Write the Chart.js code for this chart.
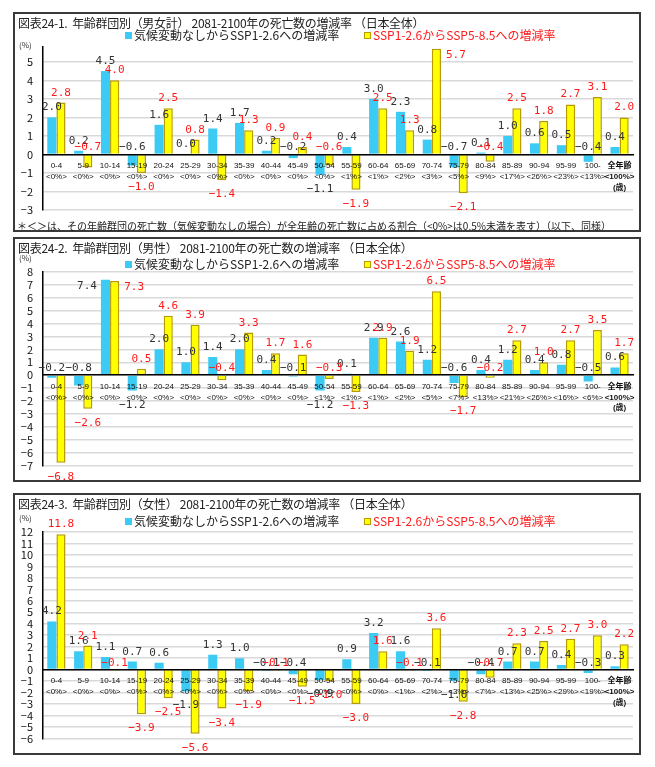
<!DOCTYPE html>
<html lang="ja">
<head>
<meta charset="utf-8">
<script src="https://cdn.jsdelivr.net/npm/chart.js@4.4.0/dist/chart.umd.min.js"></script>
<style>
  html, body { margin: 0; padding: 0; background: #fff; }
  body { width: 655px; height: 767px; position: relative; overflow: hidden;
         font-family: "Noto Sans CJK JP", sans-serif; color: #222; }
  .box { position: absolute; left: 13px; width: 628px; border: 2px solid #3a3a3a; box-sizing: border-box; }
  canvas { position: absolute; left: 13px; }
  .title { position: absolute; left: 18px; font-size: 12px; line-height: 14px; white-space: nowrap; letter-spacing: -0.3px; }
  .leg { position: absolute; font-size: 12px; line-height: 14px; white-space: nowrap; }
  .leg i { display: inline-block; width: 7px; height: 7px; margin-right: 2px; vertical-align: 1px; }
  .unit { position: absolute; left: 19px; font-size: 8px; line-height: 10px; color: #333; }
  .note { position: absolute; left: 17px; top: 219px; font-size: 10px; line-height: 13px; white-space: nowrap; }
</style>
</head>
<body>

<div class="box" style="top:12px;height:220px"></div>
<div class="box" style="top:237px;height:245px"></div>
<div class="box" style="top:493px;height:262px"></div>

<canvas id="c1" width="628" height="220" style="top:12px"></canvas>
<canvas id="c2" width="628" height="245" style="top:237px"></canvas>
<canvas id="c3" width="628" height="262" style="top:493px"></canvas>

<div class="title" style="top:16px">図表24-1.&nbsp; 年齢群団別（男女計） 2081-2100年の死亡数の増減率 （日本全体）</div>
<div class="leg" style="left:125px;top:28px"><i style="background:#3CCBF4"></i>気候変動なしからSSP1-2.6への増減率</div>
<div class="leg" style="left:364px;top:28px;color:#FF1A1A"><i style="background:#FFFF00;outline:1px solid #B89B00;outline-offset:-1px"></i>SSP1-2.6からSSP5-8.5への増減率</div>
<div class="unit" style="top:40px">(%)</div>
<div class="note">＊＜＞は、その年齢群団の死亡数（気候変動なしの場合）が全年齢の死亡数に占める割合（&lt;0%&gt;は0.5%未満を表す）（以下、同様）</div>

<div class="title" style="top:241px">図表24-2.&nbsp; 年齢群団別（男性） 2081-2100年の死亡数の増減率 （日本全体）</div>
<div class="leg" style="left:125px;top:257px"><i style="background:#3CCBF4"></i>気候変動なしからSSP1-2.6への増減率</div>
<div class="leg" style="left:364px;top:257px;color:#FF1A1A"><i style="background:#FFFF00;outline:1px solid #B89B00;outline-offset:-1px"></i>SSP1-2.6からSSP5-8.5への増減率</div>
<div class="unit" style="top:253px">(%)</div>

<div class="title" style="top:497px">図表24-3.&nbsp; 年齢群団別（女性） 2081-2100年の死亡数の増減率 （日本全体）</div>
<div class="leg" style="left:125px;top:514px"><i style="background:#3CCBF4"></i>気候変動なしからSSP1-2.6への増減率</div>
<div class="leg" style="left:364px;top:514px;color:#FF1A1A"><i style="background:#FFFF00;outline:1px solid #B89B00;outline-offset:-1px"></i>SSP1-2.6からSSP5-8.5への増減率</div>
<div class="unit" style="top:513px">(%)</div>

<script>
// 年齢群団
const ageGroups = ['0-4', '5-9', '10-14', '15-19', '20-24', '25-29', '30-34', '35-39', '40-44', '45-49',
  '50-54', '55-59', '60-64', '65-69', '70-74', '75-79', '80-84', '85-89', '90-94', '95-99', '100-', '全年齢'];

// 全年齢の死亡数に占める割合
const shareTotal = ['<0%>', '<0%>', '<0%>', '<0%>', '<0%>', '<0%>', '<0%>', '<0%>', '<0%>', '<0%>',
  '<0%>', '<1%>', '<1%>', '<2%>', '<3%>', '<5%>', '<9%>', '<17%>', '<26%>', '<23%>', '<13%>', '<100%>'];
const shareMale = ['<0%>', '<0%>', '<0%>', '<0%>', '<0%>', '<0%>', '<0%>', '<0%>', '<0%>', '<0%>',
  '<1%>', '<1%>', '<1%>', '<2%>', '<5%>', '<7%>', '<13%>', '<21%>', '<26%>', '<16%>', '<6%>', '<100%>'];
const shareFemale = ['<0%>', '<0%>', '<0%>', '<0%>', '<0%>', '<0%>', '<0%>', '<0%>', '<0%>', '<0%>',
  '<0%>', '<0%>', '<0%>', '<1%>', '<2%>', '<3%>', '<7%>', '<13%>', '<25%>', '<29%>', '<19%>', '<100%>'];

// 男女計
const totalNoCcTo126 = [2.0, 0.2, 4.5, -0.6, 1.6, 0.0, 1.4, 1.7, 0.2, -0.2, -1.1, 0.4, 3.0, 2.3, 0.8, -0.7, 0.1, 1.0, 0.6, 0.5, -0.4, 0.4];
const total126To585 = [2.8, -0.7, 4.0, -1.0, 2.5, 0.8, -1.4, 1.3, 0.9, 0.4, -0.6, -1.9, 2.5, 1.3, 5.7, -2.1, -0.4, 2.5, 1.8, 2.7, 3.1, 2.0];
// 男性
const maleNoCcTo126 = [-0.2, -0.8, 7.4, -1.2, 2.0, 1.0, 1.4, 2.0, 0.4, -0.1, -1.2, 0.1, 2.9, 2.6, 1.2, -0.6, 0.4, 1.2, 0.4, 0.8, -0.5, 0.6];
const male126To585 = [-6.8, -2.6, 7.3, 0.5, 4.6, 3.9, -0.4, 3.3, 1.7, 1.6, -0.3, -1.3, 2.9, 1.9, 6.5, -1.7, -0.2, 2.7, 1.0, 2.7, 3.5, 1.7];
// 女性
const femaleNoCcTo126 = [4.2, 1.6, 1.1, 0.7, 0.6, -1.9, 1.3, 1.0, -0.1, -0.4, -0.9, 0.9, 3.2, 1.6, -0.1, -1.0, -0.4, 0.7, 0.7, 0.4, -0.3, 0.3];
const female126To585 = [11.8, 2.1, -0.1, -3.9, -2.5, -5.6, -3.4, -1.9, -0.1, -1.5, -1.0, -3.0, 1.6, -0.1, 3.6, -2.8, -0.7, 2.3, 2.5, 2.7, 3.0, 2.2];

const BLUE = '#3CCBF4';
const YELLOW = '#FFFF00';
const GOLD = '#B89B00';
const RED = '#FF1A1A';

function fmt(v) {
  return v.toFixed(1).replace('-', '−');
}

// 棒の外側に値を書く（凡例や隣の値とぶつかる時は棒の横へ）
const valueLabels = {
  id: 'valueLabels',
  afterDatasetsDraw(chart) {
    const ctx = chart.ctx;
    const area = chart.chartArea;
    const zero = chart.scales.y.getPixelForValue(0);
    const legendBottom = area.top - 4;
    const legendLeft = 112;
    ctx.save();
    ctx.font = '11px "DejaVu Sans Mono", monospace';
    ctx.textBaseline = 'alphabetic';
    chart.data.datasets.forEach((ds, i) => {
      const other = chart.data.datasets[1 - i].data;
      chart.getDatasetMeta(i).data.forEach((bar, j) => {
        const v = ds.data[j];
        const text = fmt(v);
        const w = ctx.measureText(text).width;
        let x = bar.x, y, align = 'center';
        if (v >= 0) {
          y = bar.y - 7;
          const top = y - 9;
          const hitsLegend = top < legendBottom && bar.x + w / 2 > legendLeft;
          const hitsPair = top < area.top && Math.abs(other[j] - v) < 1;
          if (hitsLegend || hitsPair) {
            y = bar.y + 9;
            if (i === 0) { align = 'right'; x = bar.x - bar.width / 2 - 4; }
            else { align = 'left'; x = bar.x + bar.width / 2 + 5; }
          }
        } else if (v > -0.85) {
          y = zero - 4;
        } else {
          y = bar.y + 17;
        }
        ctx.textAlign = align;
        ctx.fillStyle = ds.labelColor;
        ctx.fillText(text, x, y);
      });
    });
    ctx.restore();
  }
};

function drawPanel(id, blue, yellow, shares, yMin, yMax, pad) {
  const last = ageGroups.length - 1;
  const labels = ageGroups.map((a, i) => i === last ? [a, shares[i], '(歳)'] : [a, shares[i]]);
  new Chart(document.getElementById(id), {
    type: 'bar',
    data: {
      labels: labels,
      datasets: [
        { label: '気候変動なしからSSP1-2.6への増減率', data: blue, backgroundColor: BLUE,
          borderWidth: 0, labelColor: '#333' },
        { label: 'SSP1-2.6からSSP5-8.5への増減率', data: yellow, backgroundColor: YELLOW,
          borderColor: GOLD, borderWidth: 1.5, labelColor: RED }
      ]
    },
    options: {
      responsive: false,
      animation: false,
      layout: { padding: pad },
      categoryPercentage: 0.68,
      barPercentage: 1.0,
      plugins: { legend: { display: false }, tooltip: { enabled: false } },
      scales: {
        x: {
          position: { y: 0 },
          grid: { display: false, drawTicks: false },
          border: { display: true, color: '#000', width: 1.5, z: 1 },
          ticks: {
            autoSkip: false, maxRotation: 0, minRotation: 0, padding: 6, z: 1, color: '#111',
            font: c => ({ family: '"Liberation Sans", "Noto Sans CJK JP", sans-serif', size: 8, lineHeight: 1.35,
                          weight: c.index === last ? 'bold' : 'normal' })
          }
        },
        y: {
          min: yMin, max: yMax,
          afterFit: s => { s.width = 30; },
          grid: { color: '#D9D9D9', lineWidth: 1.5, drawTicks: false },
          border: { color: '#000', width: 1.5 },
          ticks: {
            stepSize: 1, autoSkip: false, includeBounds: false, padding: 10, color: '#111',
            font: { family: '"Noto Sans CJK JP", sans-serif', size: 11 },
            callback: v => String(v).replace('-', '−')
          }
        }
      }
    },
    plugins: [valueLabels]
  });
}

drawPanel('c1', totalNoCcTo126, total126To585, shareTotal, -3, 5.8, { left: 0, right: 8, top: 35, bottom: 22 });
drawPanel('c2', maleNoCcTo126, male126To585, shareMale, -7, 8, { left: 0, right: 8, top: 35, bottom: 7 });
drawPanel('c3', femaleNoCcTo126, female126To585, shareFemale, -6, 12, { left: 0, right: 8, top: 39, bottom: 6 });
</script>
</body>
</html>
